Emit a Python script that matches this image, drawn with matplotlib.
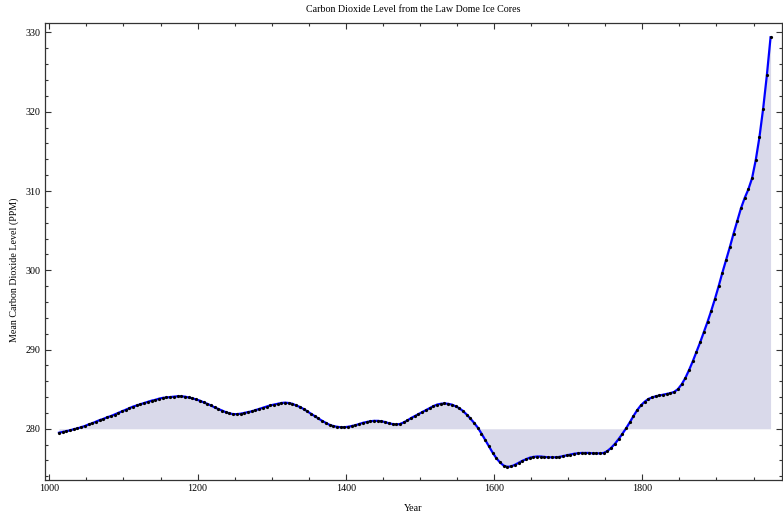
## Law Dome CO2 record, Mathematica-style framed plot
import numpy as np
import matplotlib.pyplot as plt
from matplotlib.ticker import MultipleLocator

title = "Carbon Dioxide Level from the Law Dome Ice Cores"
xlab = "Year"
ylab = "Mean Carbon Dioxide Level (PPM)"

start_year = 1013
step = 5
baseline = 280

# ppm, one value every 5 years
co2 = [
    279.5, 279.6, 279.7, 279.8, 279.95, 280.05, 280.2, 280.35, 280.55, 280.7,
    280.9, 281.1, 281.25, 281.45, 281.6, 281.8, 282.0, 282.2, 282.4, 282.6,
    282.8, 282.95, 283.1, 283.25, 283.4, 283.55, 283.65, 283.8, 283.9, 283.95,
    284.0, 284.05, 284.1, 284.1, 284.05, 283.95, 283.85, 283.7, 283.55, 283.35,
    283.15, 282.95, 282.7, 282.5, 282.3, 282.1, 281.95, 281.85, 281.85, 281.9,
    282.0, 282.1, 282.2, 282.35, 282.5, 282.65, 282.8, 282.95, 283.05, 283.15,
    283.25, 283.3, 283.25, 283.15, 282.95, 282.75, 282.5, 282.2, 281.9, 281.6,
    281.3, 281.0, 280.75, 280.5, 280.35, 280.25, 280.2, 280.2, 280.25, 280.35,
    280.45, 280.6, 280.75, 280.85, 280.95, 281.0, 281.0, 280.95, 280.85, 280.7,
    280.6, 280.55, 280.6, 280.8, 281.05, 281.35, 281.6, 281.85, 282.1, 282.35,
    282.6, 282.85, 283.05, 283.15, 283.2, 283.15, 283.05, 282.85, 282.6, 282.25,
    281.8, 281.3, 280.75, 280.15, 279.4, 278.6, 277.8, 277.0, 276.3, 275.75,
    275.35, 275.2, 275.25, 275.45, 275.7, 275.95, 276.15, 276.35, 276.45, 276.5,
    276.5, 276.45, 276.4, 276.4, 276.4, 276.45, 276.55, 276.65, 276.75, 276.85,
    276.9, 276.95, 276.95, 276.95, 276.9, 276.9, 276.9, 276.95, 277.2, 277.6,
    278.1, 278.7, 279.35, 280.05, 280.8, 281.6, 282.35, 282.95, 283.4, 283.75,
    283.95, 284.1, 284.2, 284.3, 284.4, 284.5, 284.65, 285.0, 285.6, 286.4,
    287.4, 288.5, 289.7, 290.9, 292.2, 293.5, 294.9, 296.4, 298.0, 299.7,
    301.3, 302.9, 304.6, 306.2, 307.8, 309.1, 310.2, 311.6, 313.9, 316.8,
    320.4, 324.6, 329.4,
]

years = start_year + step * np.arange(len(co2))
co2 = np.array(co2)

plt.rcParams['font.family'] = ['Liberation Serif', 'DejaVu Serif']

fig = plt.figure(figsize=(7.83, 5.14), dpi=100)
ax = fig.add_axes([0.0575, 0.0671, 0.9412, 0.8882])

ax.fill_between(years, co2, baseline, color='#d9d9ea', linewidth=0)
ax.plot(years, co2, color='#0000ff', linewidth=1.6, zorder=3)
ax.plot(years, co2, 'o', color='black', markersize=2.3, markeredgewidth=0, zorder=4)

ax.set_xlim(994.2, 1988.4)
ax.set_ylim(273.6, 331.2)

ax.xaxis.set_major_locator(MultipleLocator(200))
ax.xaxis.set_minor_locator(MultipleLocator(50))
ax.yaxis.set_major_locator(MultipleLocator(10))
ax.yaxis.set_minor_locator(MultipleLocator(2))

ax.tick_params(which='both', direction='in', top=True, right=True,
               labelsize=7.2, color='#333333', width=0.8, pad=3)
ax.tick_params(which='major', length=4)
ax.tick_params(which='minor', length=2)
for s in ax.spines.values():
    s.set_color('#333333')
    s.set_linewidth(0.9)

fig.text(0.528, 0.982, title, ha='center', va='center', fontsize=7.2)
ax.set_xlabel(xlab, fontsize=7.2, labelpad=8)
ax.set_ylabel(ylab, fontsize=7.2)
ax.yaxis.set_label_coords(-0.035, 0.46)

fig.savefig("out.png", dpi=100)
